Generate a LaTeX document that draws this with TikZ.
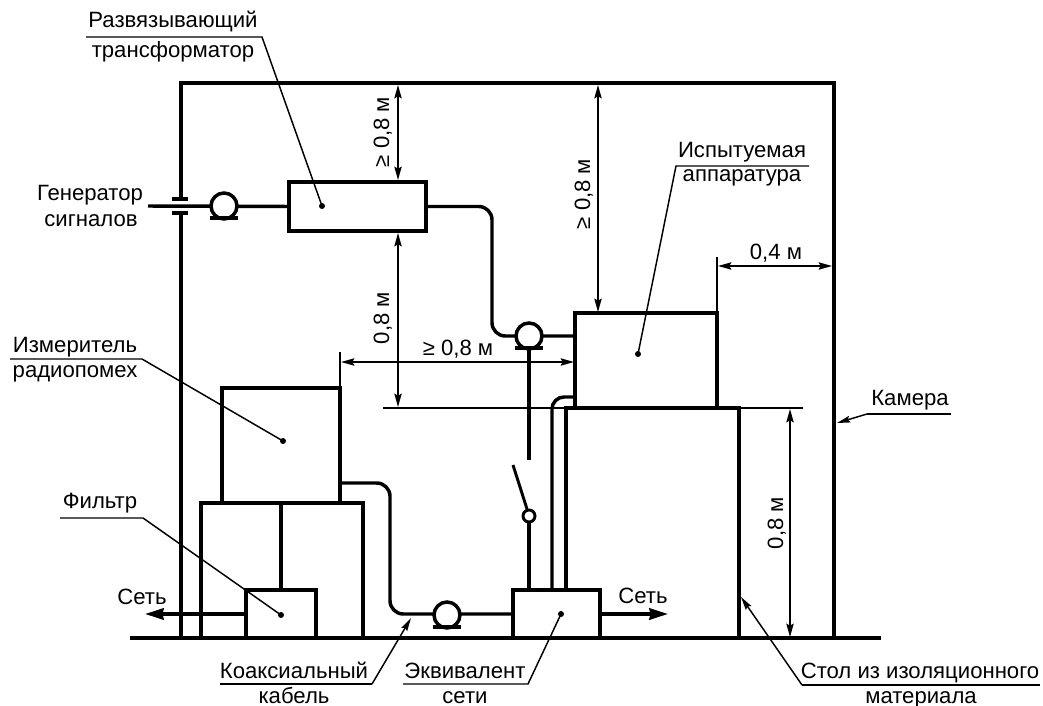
\documentclass[tikz,border=0pt]{standalone}
\usepackage{fontspec}
\setmainfont{Liberation Sans}
\usetikzlibrary{arrows.meta,calc}
\tikzset{
  thickline/.style={line width=2.6pt,line cap=butt,line join=miter},
  cable/.style={thickline,rounded corners=10pt},
  thinline/.style={line width=1.1pt},
  leader/.style={line width=1.1pt},
  dimline/.style={line width=1.1pt,{Stealth[length=10pt,width=5.5pt,inset=1.5pt]}-{Stealth[length=10pt,width=5.5pt,inset=1.5pt]}},
  leadarrow/.style={line width=1.1pt,-{Stealth[length=10pt,width=5pt,inset=1.5pt]}},
  mainsarrow/.style={thickline,-{Stealth[length=14pt,width=8.5pt,inset=1pt]}},
  lbl/.style={anchor=base,inner sep=0pt,font=\fontsize{16.6}{19}\selectfont},
  vlbl/.style={lbl,rotate=90},
  dotmark/.style={circle,fill=black,inner sep=0pt,minimum size=4.5pt},
  loopmark/.style={circle,draw=black,fill=white,line width=2.6pt,inner sep=0pt,minimum size=19.5pt},
  pivot/.style={circle,draw=black,fill=white,line width=2.2pt,inner sep=0pt,minimum size=9pt},
  devbox/.style={draw=black,line width=2.6pt,inner sep=0pt,outer sep=0pt,rectangle},
}
\newcommand{\devnode}[5]{\node[devbox,minimum width={(#4-#2)*0.75pt},minimum height={(#5-#3)*0.75pt}] (#1) at ({(#2+#4)/2},{(#3+#5)/2}) {};}
\begin{document}
\begin{tikzpicture}[x=0.75pt,y=-0.75pt]
\useasboundingbox (0,0) rectangle (1043,706);
% chamber and floor
\coordinate (wallA) at (181,199);
\coordinate (wallB) at (181,83);
\coordinate (wallC) at (834,83);
\coordinate (wallD) at (834,638);
\coordinate (wallE) at (181,213);
\coordinate (wallF) at (181,638);
\coordinate (floorL) at (130,638);
\coordinate (floorR) at (881,638);
\draw[thickline] (wallA) -- (wallB) -- (wallC) -- (wallD);
\draw[thickline] (wallE) -- (wallF);
\draw[thickline] (floorL) -- (floorR);
% feed-through capacitor
\coordinate (capAl) at (172,199); \coordinate (capAr) at (188,199);
\coordinate (capBl) at (172,213); \coordinate (capBr) at (188,213);
\draw[thickline] (capAl) -- (capAr);
\draw[thickline] (capBl) -- (capBr);
% devices
\devnode{tr}{289}{182}{426}{231}
\devnode{dut}{575}{313}{717}{408}
\devnode{meter}{222}{388}{340}{503}
\devnode{stand}{201}{503}{363}{638}
\devnode{filt}{246}{590}{316}{638}
\devnode{lisn}{513}{590}{600}{638}
% table
\coordinate (tabA) at (566,590);
\coordinate (tabB) at (566,408);
\coordinate (tabC) at (739,408);
\coordinate (tabD) at (739,638);
\draw[thickline] (tabA) -- (tabB) -- (tabC) -- (tabD);
% markers
\node[dotmark] (dtr) at (322,206) {};
\node[dotmark] (ddut) at (638,354) {};
\node[dotmark] (dmeter) at (283,441) {};
\node[dotmark] (dfilt) at (281,615) {};
\node[dotmark] (dlisn) at (561,614) {};
% cables
\coordinate (genEnd) at (148,206);
\coordinate (bendA) at (492,270);
\coordinate (bendB) at (390,540);
\coordinate (loopAc) at (224,206);
\coordinate (loopBc) at (529,336);
\coordinate (loopCc) at (447,615);
\coordinate (meterOut) at (340,483);
\coordinate (pwrTop) at (552,590);
\coordinate (pwrBend) at (552,397);
\coordinate (pwrEnd) at (575,397);
\draw[thickline] (genEnd) -- (tr.west);
\draw[cable] (tr.east) -| (bendA) |- (loopBc -| dut.west);
\draw[cable] (meterOut) -| (bendB) |- (lisn.west);
\draw[thickline] (stand.north -| filt.north) -- (filt.north);
\draw[mainsarrow] (filt.west) -- ++(-101,0) coordinate (netL);
\draw[mainsarrow] (lisn.east) -- ++(68,0) coordinate (netR);
% lines from the network equivalent
\coordinate (riseA) at (529,348);
\coordinate (riseB) at (529,460);
\coordinate (bladeA) at (513,465);
\coordinate (bladeB) at (527,509);
\node[pivot] (sw) at (529,516) {};
\draw[thickline] (riseA) -- (riseB);
\draw[thickline] (sw.south) -- (sw.south |- lisn.north);
\draw[line width=2.2pt] (bladeA) -- (bladeB);
\draw[cable,rounded corners=9pt] (pwrTop) -- (pwrBend) -- (pwrEnd);
% loops
\node[loopmark] (loopA) at (loopAc) {};
\node[loopmark] (loopB) at (loopBc) {};
\node[loopmark] (loopC) at (loopCc) {};
\draw[thickline] ($(loopA)+(-14,12)$) -- ($(loopA)+(14,12)$);
\draw[thickline] ($(loopB)+(-14,12)$) -- ($(loopB)+(14,12)$);
\draw[thickline] ($(loopC)+(-14,12)$) -- ($(loopC)+(14,12)$);
% extension lines
\coordinate (extA1) at (340,352); \coordinate (extA2) at (340,388);
\coordinate (extB1) at (717,257); \coordinate (extB2) at (717,313);
\coordinate (extC1) at (383,408); \coordinate (extC2) at (803,408);
\draw[thinline] (extA1) -- (extA2);
\draw[thinline] (extB1) -- (extB2);
\draw[thinline] (extC1) -- (extC2);
% dimensions
\coordinate (dA1) at (398,85);  \coordinate (dA2) at (398,180);
\coordinate (dB1) at (398,233); \coordinate (dB2) at (398,407);
\coordinate (dC1) at (598,85);  \coordinate (dC2) at (598,312);
\coordinate (dD1) at (341,362); \coordinate (dD2) at (574,362);
\coordinate (dE1) at (718,266); \coordinate (dE2) at (832,266);
\coordinate (dF1) at (790,409); \coordinate (dF2) at (790,637);
\draw[dimline] (dA1) -- (dA2);
\draw[dimline] (dB1) -- (dB2);
\draw[dimline] (dC1) -- (dC2);
\draw[dimline] (dD1) -- (dD2);
\draw[dimline] (dE1) -- (dE2);
\draw[dimline] (dF1) -- (dF2);
\node[vlbl] (tA) at (389,132) {≥ 0,8 м};
\node[vlbl] (tB) at (389,318) {0,8 м};
\node[vlbl] (tC) at (590,194) {≥ 0,8 м};
\node[lbl] (tD) at (458,355) {≥ 0,8 м};
\node[lbl] (tE) at (776,259) {0,4 м};
\node[vlbl] (tF) at (783,523) {0,8 м};
% labels with leaders
\coordinate (uA1) at (86,37);  \coordinate (uA2) at (262,37);
\draw[leader] (uA1) -- (uA2) -- (dtr.center);
\node[lbl] (lA1) at (173,28) {Развязывающий};
\node[lbl] (lA2) at (173,58) {трансформатор};
\coordinate (uB1) at (809,166); \coordinate (uB2) at (676,166);
\draw[leader] (uB1) -- (uB2) -- (ddut.center);
\node[lbl] (lB1) at (742,158) {Испытуемая};
\node[lbl] (lB2) at (742,182) {аппаратура};
\coordinate (uC1) at (10,359); \coordinate (uC2) at (142,359);
\draw[leader] (uC1) -- (uC2) -- (dmeter.center);
\node[lbl] (lC1) at (75,352) {Измеритель};
\node[lbl] (lC2) at (75,377) {радиопомех};
\coordinate (uD1) at (60,518); \coordinate (uD2) at (143,518);
\draw[leader] (uD1) -- (uD2) -- (dfilt.center);
\node[lbl] (lD1) at (100,508) {Фильтр};
\coordinate (uE1) at (403,684); \coordinate (uE2) at (528,684);
\draw[leader] (uE1) -- (uE2) -- (dlisn.center);
\node[lbl] (lE1) at (465,678) {Эквивалент};
\node[lbl] (lE2) at (465,703) {сети};
\coordinate (uF1) at (220,684); \coordinate (uF2) at (372,684); \coordinate (tipF) at (411,618);
\draw[leader] (uF1) -- (uF2);
\draw[leadarrow] (uF2) -- (tipF);
\node[lbl] (lF1) at (294,678) {Коаксиальный};
\node[lbl] (lF2) at (294,703) {кабель};
\coordinate (uG1) at (1040,685); \coordinate (uG2) at (802,685); \coordinate (tipG) at (741,597);
\draw[leader] (uG1) -- (uG2);
\draw[leadarrow] (uG2) -- (tipG);
\node[lbl] (lG1) at (920,678) {Стол из изоляционного};
\node[lbl] (lG2) at (921,703) {материала};
\coordinate (uH1) at (951,414); \coordinate (uH2) at (867,414); \coordinate (tipH) at (837,423);
\draw[leader] (uH1) -- (uH2);
\draw[leadarrow] (uH2) -- (tipH);
\node[lbl] (lH1) at (910,405) {Камера};
% free labels
\node[lbl] (lI1) at (90,201) {Генератор};
\node[lbl] (lI2) at (91,227) {сигналов};
\node[lbl] (lJ) at (142,604) {Сеть};
\node[lbl] (lK) at (643,603) {Сеть};
\end{tikzpicture}
\end{document}
